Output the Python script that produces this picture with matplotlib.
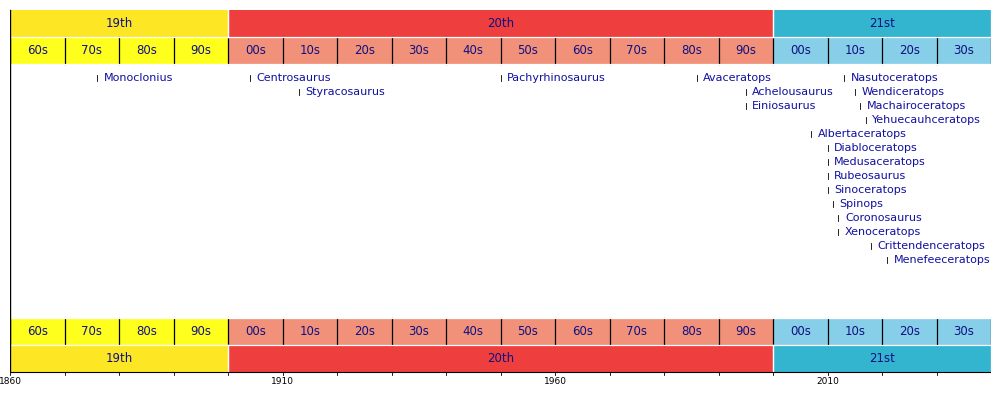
import matplotlib.pyplot as plt
from matplotlib.patches import Rectangle

centuries = ['19th', '20th', '21st']
century_spans = [(1860, 1900), (1900, 2000), (2000, 2040)]
century_colors = ['#fde725', '#ef3e3e', '#33b4cf']
decade_starts = list(range(1860, 2040, 10))
decade_colors = {'19th': '#ffff1e', '20th': '#f2917a', '21st': '#87cfe8'}

names = ['Monoclonius', 'Centrosaurus', 'Styracosaurus', 'Pachyrhinosaurus', 'Avaceratops',
         'Achelousaurus', 'Einiosaurus', 'Nasutoceratops', 'Wendiceratops', 'Machairoceratops',
         'Yehuecauhceratops', 'Albertaceratops', 'Diabloceratops', 'Medusaceratops', 'Rubeosaurus',
         'Sinoceratops', 'Spinops', 'Coronosaurus', 'Xenoceratops', 'Crittendenceratops',
         'Menefeeceratops']
years = [1876, 1904, 1913, 1950, 1986, 1995, 1995, 2013, 2015, 2016, 2017, 2007, 2010, 2010,
         2010, 2010, 2011, 2012, 2012, 2018, 2021]
rows = [0, 0, 1, 0, 0, 1, 2, 0, 1, 2, 3, 4, 5, 6, 7, 8, 9, 10, 11, 12, 13]
tick_years = [1860, 1910, 1960, 2010]

fig = plt.figure(figsize=(10, 4.2), dpi=100)
ax = fig.add_axes([0.01, 0, 0.981, 1])
ax.set_xlim(1860, 2040)
ax.set_ylim(420, 0)
ax.axis('off')

def band(y0, y1, x0, x1, color, label, size):
    ax.add_patch(Rectangle((x0, y0), x1 - x0, y1 - y0, facecolor=color, edgecolor='none'))
    ax.text((x0 + x1) / 2, (y0 + y1) / 2, label, ha='center', va='center',
            fontsize=size, color='#101080')

for name, (a, b), c in zip(centuries, century_spans, century_colors):
    band(10, 37, a, b, c, name, 8.5)
    band(345, 372, a, b, c, name, 8.5)
    for d in decade_starts:
        if a <= d < b:
            lab = '%02ds' % (d % 100)
            band(37, 64, d, d + 10, decade_colors[name], lab, 8.5)
            band(318, 345, d, d + 10, decade_colors[name], lab, 8.5)

# separators
for d in decade_starts + [2040]:
    ax.plot([d, d], [37, 64], color='black', lw=0.9)
    ax.plot([d, d], [318, 345], color='black', lw=0.9)
for a, b in century_spans:
    for x in (a, b):
        ax.plot([x, x], [10, 37], color='white', lw=0.9)
        ax.plot([x, x], [345, 372], color='white', lw=0.9)
for y in (37, 64, 318, 345):
    ax.plot([1860, 2040], [y, y], color='white', lw=0.9)
ax.plot([1860, 1860], [10, 372], color='black', lw=1)

# axis
ax.plot([1860, 2040], [372, 372], color='black', lw=0.8)
for t in range(1860, 2041, 10):
    ax.plot([t, t], [372, 375], color='black', lw=0.6)
for t in tick_years:
    ax.text(t, 382, str(t), ha='center', va='center', fontsize=6.5)

for n, yr, r in zip(names, years, rows):
    y = 78 + 14 * r
    ax.plot([yr, yr], [y - 3, y + 3], color='black', lw=0.6)
    ax.text(yr + 1.2, y, n, ha='left', va='center', fontsize=8, color='#1010a0')

fig.savefig('out.png')
